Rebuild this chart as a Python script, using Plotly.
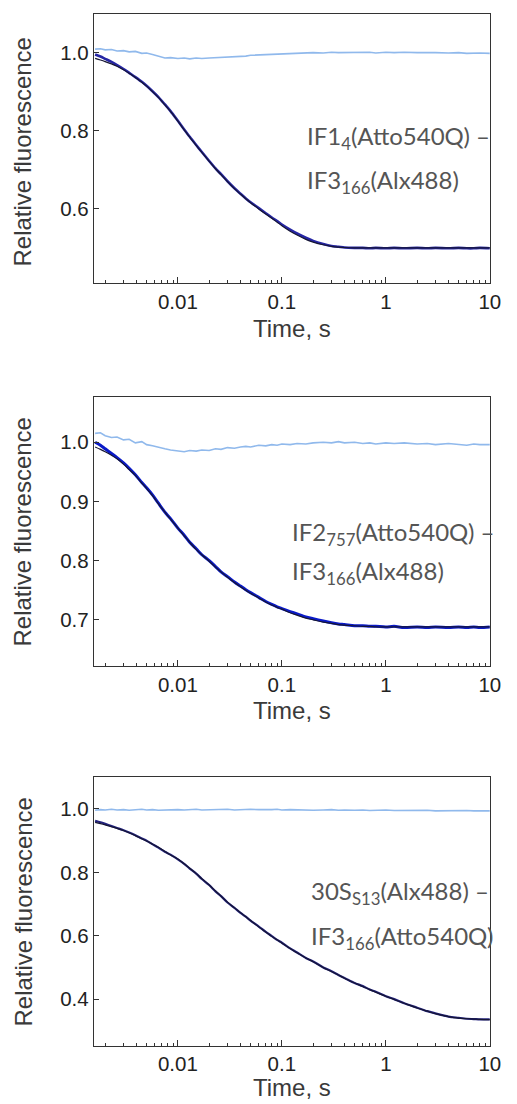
import plotly.graph_objects as go

W, H = 517, 1104

# ---------------- data ----------------
time_s = [0.0016, 0.0018, 0.002, 0.0023, 0.0026, 0.003, 0.0034, 0.0039, 0.0045, 0.005,
          0.0057, 0.0065, 0.0075, 0.0085, 0.01, 0.0115, 0.013, 0.015, 0.017, 0.02,
          0.023, 0.026, 0.03, 0.035, 0.04, 0.045, 0.05, 0.06, 0.07, 0.08,
          0.09, 0.1, 0.12, 0.14, 0.17, 0.2, 0.25, 0.3, 0.35, 0.4,
          0.5, 0.6, 0.7, 0.8, 1.0, 1.2, 1.5, 2.0, 2.5, 3.0,
          4.0, 5.0, 6.0, 7.0, 8.0, 10.0]

# Panel 1: IF1_4(Atto540Q) - IF3_166(Alx488)
p1_control = [1.010, 1.011, 1.008, 1.009, 1.005, 1.006, 1.003, 1.004, 0.999, 1.000,
              0.996, 0.991, 0.987, 0.988, 0.986, 0.987, 0.985, 0.987, 0.986, 0.987,
              0.988, 0.987, 0.989, 0.990, 0.991, 0.992, 0.994, 0.995, 0.996, 0.997,
              0.998, 0.998, 0.999, 1.000, 1.000, 1.001, 1.000, 1.002, 1.001, 1.001,
              1.002, 1.001, 1.002, 1.000, 1.002, 1.001, 1.002, 1.001, 1.000, 1.001,
              1.000, 1.001, 0.999, 1.000, 1.000, 0.999]
p1_data = [0.996, 0.991, 0.985, 0.977, 0.969, 0.959, 0.949, 0.938, 0.926, 0.916,
           0.902, 0.887, 0.868, 0.851, 0.826, 0.804, 0.785, 0.764, 0.746, 0.723,
           0.704, 0.689, 0.671, 0.653, 0.639, 0.627, 0.617, 0.602, 0.589, 0.578,
           0.569, 0.560, 0.547, 0.537, 0.526, 0.518, 0.510, 0.505, 0.503, 0.501,
           0.500, 0.500, 0.499, 0.500, 0.499, 0.500, 0.499, 0.500, 0.499, 0.500,
           0.499, 0.500, 0.499, 0.499, 0.500, 0.499]
p1_fit = [0.986, 0.982, 0.978, 0.972, 0.966, 0.957, 0.948, 0.937, 0.925, 0.915,
          0.901, 0.886, 0.867, 0.850, 0.825, 0.803, 0.784, 0.763, 0.745, 0.722,
          0.703, 0.688, 0.670, 0.652, 0.638, 0.626, 0.616, 0.600, 0.587, 0.576,
          0.566, 0.557, 0.543, 0.533, 0.522, 0.515, 0.508, 0.504, 0.502, 0.501,
          0.500, 0.500, 0.500, 0.500, 0.500, 0.500, 0.500, 0.500, 0.500, 0.500,
          0.500, 0.500, 0.500, 0.500, 0.500, 0.500]

# Panel 2: IF2_757(Atto540Q) - IF3_166(Alx488)
p2_control = [1.015, 1.016, 1.011, 1.008, 1.009, 1.004, 1.005, 0.999, 1.001, 0.996,
              0.994, 0.991, 0.989, 0.987, 0.986, 0.984, 0.986, 0.985, 0.987, 0.986,
              0.989, 0.988, 0.991, 0.990, 0.992, 0.993, 0.992, 0.995, 0.994, 0.996,
              0.995, 0.997, 0.996, 0.998, 0.997, 0.999, 1.000, 0.999, 1.001, 0.999,
              1.000, 0.998, 0.999, 0.997, 0.999, 0.998, 0.999, 0.997, 0.998, 0.996,
              0.998, 0.997, 0.995, 0.997, 0.996, 0.996]
p2_data = [1.000, 0.995, 0.989, 0.981, 0.974, 0.965, 0.956, 0.945, 0.932, 0.923,
           0.911, 0.897, 0.882, 0.871, 0.855, 0.843, 0.831, 0.820, 0.810, 0.800,
           0.790, 0.781, 0.773, 0.764, 0.757, 0.751, 0.746, 0.738, 0.731, 0.726,
           0.722, 0.719, 0.714, 0.710, 0.705, 0.702, 0.698, 0.695, 0.693, 0.692,
           0.690, 0.690, 0.689, 0.689, 0.688, 0.689, 0.687, 0.688, 0.687, 0.688,
           0.687, 0.688, 0.687, 0.688, 0.687, 0.688]
p2_fit = [0.992, 0.988, 0.984, 0.978, 0.972, 0.963, 0.954, 0.944, 0.931, 0.922,
          0.910, 0.896, 0.882, 0.870, 0.855, 0.842, 0.831, 0.819, 0.810, 0.799,
          0.789, 0.781, 0.772, 0.763, 0.756, 0.750, 0.745, 0.737, 0.730, 0.725,
          0.721, 0.718, 0.712, 0.708, 0.703, 0.700, 0.696, 0.694, 0.692, 0.691,
          0.690, 0.689, 0.689, 0.688, 0.688, 0.688, 0.688, 0.688, 0.688, 0.688,
          0.688, 0.688, 0.688, 0.688, 0.688, 0.688]

# Panel 3: 30S_S13(Alx488) - IF3_166(Atto540Q)
p3_control = [0.996, 0.998, 0.997, 0.999, 0.997, 0.998, 0.996, 0.998, 0.999, 0.997,
              0.998, 0.996, 0.997, 0.999, 0.998, 0.997, 0.998, 0.999, 0.997, 0.998,
              0.997, 0.998, 0.999, 0.997, 0.998, 0.997, 0.999, 0.998, 0.997, 0.998,
              0.999, 0.997, 0.998, 0.997, 0.998, 0.996, 0.997, 0.998, 0.996, 0.997,
              0.996, 0.997, 0.995, 0.996, 0.997, 0.995, 0.996, 0.995, 0.996, 0.994,
              0.995, 0.994, 0.995, 0.994, 0.994, 0.994]
p3_data = [0.963, 0.958, 0.953, 0.946, 0.940, 0.933, 0.926, 0.917, 0.907, 0.900,
           0.889, 0.878, 0.865, 0.856, 0.841, 0.827, 0.812, 0.796, 0.779, 0.760,
           0.740, 0.725, 0.705, 0.688, 0.672, 0.660, 0.648, 0.629, 0.612, 0.599,
           0.587, 0.578, 0.560, 0.547, 0.530, 0.519, 0.500, 0.488, 0.476, 0.467,
           0.451, 0.441, 0.430, 0.423, 0.409, 0.400, 0.387, 0.373, 0.362, 0.355,
           0.345, 0.341, 0.338, 0.337, 0.336, 0.336]
p3_fit = [0.958, 0.954, 0.950, 0.944, 0.939, 0.932, 0.925, 0.916, 0.906, 0.899,
          0.889, 0.879, 0.866, 0.855, 0.842, 0.827, 0.813, 0.796, 0.780, 0.760,
          0.741, 0.725, 0.706, 0.688, 0.673, 0.660, 0.648, 0.628, 0.612, 0.598,
          0.587, 0.577, 0.560, 0.546, 0.530, 0.518, 0.500, 0.487, 0.476, 0.466,
          0.451, 0.440, 0.430, 0.422, 0.409, 0.399, 0.387, 0.372, 0.362, 0.354,
          0.345, 0.340, 0.338, 0.337, 0.336, 0.335]

x_major = [0.01, 0.1, 1, 10]
x_major_labels = ["0.01", "0.1", "1", "10"]
x_minor = [0.002, 0.003, 0.004, 0.005, 0.006, 0.007, 0.008, 0.009,
           0.02, 0.03, 0.04, 0.05, 0.06, 0.07, 0.08, 0.09,
           0.2, 0.3, 0.4, 0.5, 0.6, 0.7, 0.8, 0.9,
           2, 3, 4, 5, 6, 7, 8, 9]

panels = [
    dict(control=p1_control, data=p1_data, fit=p1_fit,
         yrange=[0.41, 1.10], yticks=[0.6, 0.8, 1.0],
         label1="IF1<sub>4</sub>(Atto540Q) –", label2="IF3<sub>166</sub>(Alx488)"),
    dict(control=p2_control, data=p2_data, fit=p2_fit,
         yrange=[0.622, 1.077], yticks=[0.7, 0.8, 0.9, 1.0],
         label1="IF2<sub>757</sub>(Atto540Q) –", label2="IF3<sub>166</sub>(Alx488)"),
    dict(control=p3_control, data=p3_data, fit=p3_fit,
         yrange=[0.253, 1.10], yticks=[0.4, 0.6, 0.8, 1.0],
         label1="30S<sub>S13</sub>(Alx488) –", label2="IF3<sub>166</sub>(Atto540Q)"),
]

# ---------------- layout geometry (pixels) ----------------
box_px = [(14, 283), (396.7, 666), (777.3, 1045.7)]   # top, bottom
x_left, x_right = 96, 500.5
ytitle_center = [152, 532, 912]
xtitle_y = [328, 710, 1087]
lab_pos = [(312, 137, 182), (296, 533, 572), (316, 892, 937)]
data_colors = ["#2626a4", "#0a1ac8", "#22227e"]
data_widths = [2.6, 3.0, 2.2]

LIGHT = "#90b9ec"
FIT = "#161634"
AXC = "#333333"
FONT = "Liberation Sans, Arial, sans-serif"

def px(v):
    return v / W

def py(v):
    return 1 - v / H

fig = go.Figure()
annotations = []
layout = {}
for i, p in enumerate(panels):
    n = "" if i == 0 else str(i + 1)
    xa, ya = "x" + n, "y" + n
    fig.add_trace(go.Scatter(x=time_s, y=p["control"], mode="lines", xaxis=xa, yaxis=ya,
                             line=dict(color=LIGHT, width=1.6), showlegend=False))
    fig.add_trace(go.Scatter(x=time_s, y=p["data"], mode="lines", xaxis=xa, yaxis=ya,
                             line=dict(color=data_colors[i], width=data_widths[i],
                                       shape="spline", smoothing=0.8), showlegend=False))
    fig.add_trace(go.Scatter(x=time_s, y=p["fit"], mode="lines", xaxis=xa, yaxis=ya,
                             line=dict(color=FIT, width=1.2, shape="spline", smoothing=1.0),
                             showlegend=False))
    top, bot = box_px[i]
    layout["xaxis" + n] = dict(
        type="log", range=[-2.807, 1.0], domain=[px(x_left), px(x_right)], anchor=ya,
        showline=True, mirror=True, linecolor=AXC, linewidth=1.3,
        ticks="inside", ticklen=6, tickwidth=1, tickcolor=AXC,
        tickvals=x_major, ticktext=x_major_labels,
        minor=dict(tickvals=x_minor, ticks="inside", ticklen=3, tickwidth=1, tickcolor=AXC),
        showgrid=False, zeroline=False,
        tickfont=dict(family=FONT, size=20.5, color="#222222"))
    layout["yaxis" + n] = dict(
        range=p["yrange"], domain=[py(bot), py(top)], anchor=xa,
        showline=True, mirror=True, linecolor=AXC, linewidth=1.3,
        ticks="inside", ticklen=5, tickwidth=1, tickcolor=AXC,
        tickvals=p["yticks"], tickformat=".1f",
        showgrid=False, zeroline=False,
        tickfont=dict(family=FONT, size=20.5, color="#222222"))
    annotations.append(dict(text="Relative fluorescence", x=px(23), y=py(ytitle_center[i]),
                            xref="paper", yref="paper", textangle=-90, showarrow=False,
                            xanchor="center", yanchor="middle",
                            font=dict(family=FONT, size=24, color="#3a3a3a")))
    annotations.append(dict(text="Time, s", x=px(298), y=py(xtitle_y[i]),
                            xref="paper", yref="paper", showarrow=False,
                            xanchor="center", yanchor="middle",
                            font=dict(family=FONT, size=24, color="#3a3a3a")))
    lx, l1y, l2y = lab_pos[i]
    for txt, yy in ((p["label1"], l1y), (p["label2"], l2y)):
        annotations.append(dict(text=txt, x=px(lx), y=py(yy), xref="paper", yref="paper",
                                showarrow=False, xanchor="left", yanchor="middle",
                                font=dict(family="Lato, Open Sans, sans-serif", size=24,
                                          color="#555555")))

fig.update_layout(width=W, height=H, autosize=False, margin=dict(l=0, r=0, t=0, b=0),
                  paper_bgcolor="white", plot_bgcolor="white",
                  annotations=annotations, **layout)

fig.write_html(
    "out.html",
    config={"displayModeBar": False, "responsive": False},
    post_script=("document.documentElement.style.overflow='hidden';"
                 "document.body.style.overflow='hidden';"
                 "document.body.style.margin='0px';"),
)
